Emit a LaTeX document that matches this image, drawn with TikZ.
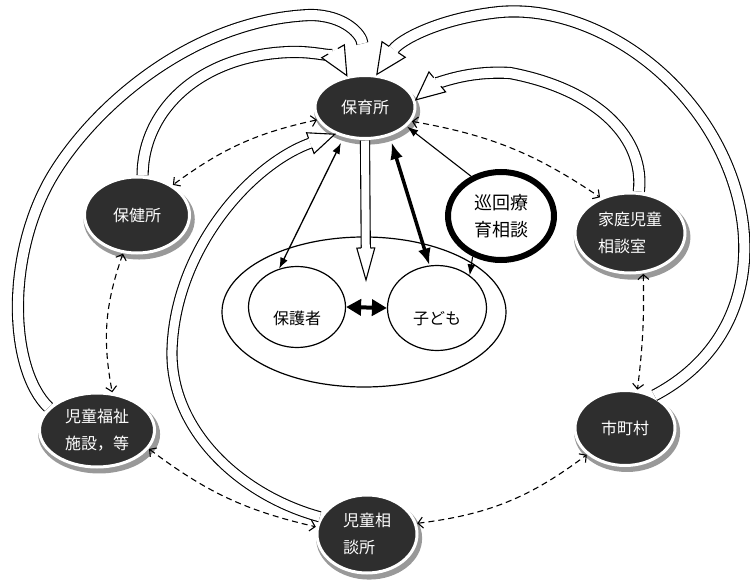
\documentclass[tikz,border=0pt]{standalone}
\usepackage{fontspec}
\newfontfamily\jp{Noto Sans CJK JP}
\usetikzlibrary{arrows.meta,shapes.geometric,decorations.markings,shadows}

\tikzset{
  % dark agency nodes with a white rim and a grey shadow
  hub/.style={ellipse, fill=black!82, draw=white, line width=3pt, outer sep=2pt,
    inner sep=0pt, text=white, align=left,
    font=\jp\fontsize{16}{27}\selectfont,
    drop shadow={shadow xshift=2pt, shadow yshift=-4pt, shadow scale=1.06,
      fill=black!40, opacity=1}},
  member/.style={ellipse, draw, line width=1.2pt, inner sep=0pt},
  memtext/.style={font=\jp\fontsize{16}{20}\selectfont, yshift=-11pt},
  consult/.style={ellipse, draw, line width=6pt, fill=white, inner sep=0pt,
    align=center, font=\jp\fontsize{18}{27}\selectfont},
  dashlink/.style={{Straight Barb[length=5pt,width=11pt]}-{Straight Barb[length=5pt,width=11pt]},
    line width=1.1pt, dash pattern=on 6pt off 4pt},
  thinlink/.style={{Latex[length=11pt,width=8pt]}-{Latex[length=11pt,width=8pt]},
    line width=1.3pt, shorten <=6pt},
  thicklink/.style={{Latex[length=17pt,width=13pt]}-{Latex[length=17pt,width=13pt]},
    line width=3.5pt, shorten <=6pt},
  pairlink/.style={{Triangle[length=15pt,width=16pt]}-{Triangle[length=15pt,width=16pt]},
    line width=4pt},
  onelink/.style={-{Latex[length=11pt,width=8pt]}, line width=1.1pt},
  % wide outlined arrow: #1 gap between the rails, #2 head length, #3 head half width
  hollowarrow/.style n args={3}{
    postaction={draw, line width=1.1pt, double=white, double distance=#1pt, shorten >=#2pt},
    postaction={decorate, decoration={markings, mark=at position 1 with {
      \fill[white] (0,0) -- (-#2,#3) -- (-#2,-#3) -- cycle;
      \draw[line width=1.1pt, line join=miter]
        (-#2,#1/2+0.55) -- (-#2,#3) -- (0,0) -- (-#2,-#3) -- (-#2,-#1/2-0.55);
    }}}
  }
}

\begin{document}
\begin{tikzpicture}[x=1pt, y=-1pt]
\useasboundingbox (0,0) rectangle (750,586);

% the family: guardian and child
\node[member, minimum width=284pt, minimum height=150pt] (family) at (364,312) {};
\node[member, minimum width=97pt, minimum height=81pt,
  label={[memtext]center:保護者}] (hogosha) at (297,307) {};
\node[member, minimum width=99pt, minimum height=85pt,
  label={[memtext]center:子ども}] (kodomo) at (437,308) {};

% itinerant consultation
\node[consult, minimum width=106pt, minimum height=88pt] (junkai) at (501,216) {巡回療\\育相談};

% agencies
\node[hub, minimum width=100pt, minimum height=63pt] (hoikusho) at (365,107) {保育所};
\node[hub, minimum width=105pt, minimum height=76pt] (hokensho) at (137,215) {保健所};
\node[hub, minimum width=110pt, minimum height=80pt] (kateijido) at (630,233) {家庭児童\\相談室};
\node[hub, minimum width=115pt, minimum height=74pt] (jidofukushi) at (97,430) {児童福祉\\施設，等};
\node[hub, minimum width=100pt, minimum height=75pt] (shichoson) at (625,428) {市町村};
\node[hub, minimum width=100pt, minimum height=78pt] (jidosodan) at (367,534) {児童相\\談所};

% mutual links between agencies
\draw[dashlink] (hoikusho.195) to[bend right=12] (hokensho.40);
\draw[dashlink] (hoikusho.343) to[bend left=12] (kateijido.130);
\draw[dashlink] (hokensho.250) to[bend right=15] (jidofukushi.68);
\draw[dashlink] (kateijido.288) to[bend left=4] (shichoson.72);
\draw[dashlink] (jidofukushi.340) to[bend right=12] (jidosodan.172);
\draw[dashlink] (jidosodan.12) to[bend right=15] (shichoson.215);

% support flowing into the nursery
\path[hollowarrow={10}{30}{14}] (jidofukushi.155) .. controls (10,370) and (5,260) .. (50,180)
  .. controls (90,110) and (190,20) .. (310,15) .. controls (345,15) and (362,35) .. (hoikusho.92);
\path[hollowarrow={10}{28}{13}] (hokensho.82) .. controls (143,110) and (200,55) .. (290,52)
  .. controls (320,51) and (338,60) .. (hoikusho.120);
\path[hollowarrow={10}{30}{14}] (shichoson.48) .. controls (750,345) and (765,240) .. (720,150)
  .. controls (675,60) and (580,5) .. (500,12) .. controls (440,18) and (400,40) .. (hoikusho.70);
\path[hollowarrow={10}{28}{13}] (kateijido.78) .. controls (645,140) and (600,90) .. (510,73)
  .. controls (460,70) and (430,88) .. (hoikusho.8);
\path[hollowarrow={9}{26}{11}] (jidosodan.160) .. controls (240,495) and (170,430) .. (172,350)
  .. controls (175,250) and (250,165) .. (hoikusho.222);

% nursery towards the family
\coordinate (famtip) at (366,280);
\path[hollowarrow={8}{32}{9}] (hoikusho.south) -- (famtip);
\draw[thinlink] (hoikusho.235) -- (hogosha.115);
\draw[thicklink] (hoikusho.310) -- (kodomo.100);
\draw[pairlink] (hogosha.east) -- (kodomo.west);

% consultation arrows
\draw[onelink] (junkai.127) -- (hoikusho.335);
\draw[onelink] (junkai.235) -- (kodomo.45);
\end{tikzpicture}
\end{document}
